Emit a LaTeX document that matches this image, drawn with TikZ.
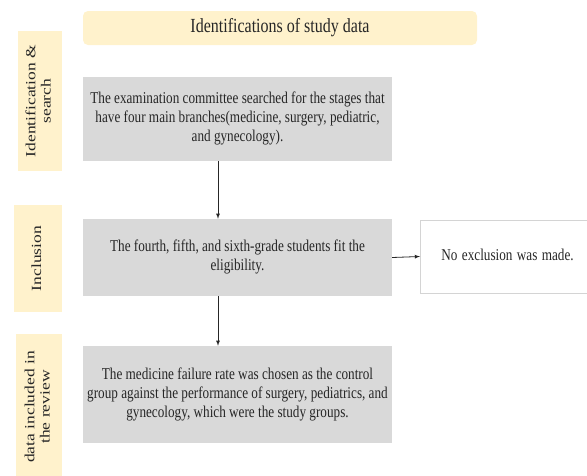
\documentclass[tikz,border=0pt]{standalone}
\usepackage{fontspec}
\setmainfont{Liberation Serif}
\usepackage{graphicx}
\usepackage{tikz}
\definecolor{paleyellow}{HTML}{FFF2CC}
\definecolor{boxgray}{HTML}{D9D9D9}
\definecolor{edgegray}{HTML}{D4D4D4}
\definecolor{inkgray}{HTML}{262626}
\newcommand{\squeeze}[1]{\scalebox{0.8}[1]{\begin{tabular}{@{}c@{}}#1\end{tabular}}}
\newcommand{\flatten}[1]{\scalebox{1}[0.8]{\begin{tabular}{@{}c@{}}#1\end{tabular}}}

\begin{document}
\begin{tikzpicture}[x=1pt,y=-1pt,
		bodytext/.style={text=inkgray,font=\fontsize{16.5}{19}\selectfont},
		stagebox/.style={bodytext,fill=boxgray,minimum width=309pt},
		sidebox/.style={fill=paleyellow,rotate=90,text=inkgray,inner sep=0pt,font=\fontsize{17.5}{19}\selectfont},
		flow/.style={->,>=latex,line width=0.8pt,draw=inkgray}]
				\useasboundingbox (0,0) rectangle (587,475);
			
				\node[fill=paleyellow,rounded corners=5pt,minimum width=394pt,minimum height=34pt,text=inkgray,font=\fontsize{20}{23}\selectfont] (T) at (280,28) {\squeeze{Identifications of study data}};
			
				\begin{scope}[every node/.style={sidebox}]
					\node[minimum width=140pt,minimum height=44pt] (L1) at (40,101) {\flatten{Identification \&\\search}};
					\node[minimum width=107pt,minimum height=48pt] (L2) at (38,258.5) {\flatten{Inclusion}};
					\node[minimum width=146pt,minimum height=46pt] (L3) at (39,407) {\flatten{data included in\\the review}};
				\end{scope}
			
				\begin{scope}[every node/.style={stagebox}]
					\node[minimum height=84pt] (S1) at (237.5,119) {\squeeze{The examination committee searched for the stages that\\have four main branches(medicine, surgery, pediatric,\\and gynecology).}};
					\node[minimum height=77pt] (S2) at (237.5,257.5) {\squeeze{The fourth, fifth, and sixth-grade students fit the\\eligibility.}};
					\node[minimum height=97pt] (S3) at (237.5,394.5) {\squeeze{The medicine failure rate was chosen as the control\\group against the performance of surgery, pediatrics, and\\gynecology, which were the study groups.}};
				\end{scope}
			
				\node[bodytext,draw=edgegray,line width=0.8pt,anchor=west,minimum height=73pt,text width=160pt,align=left,inner xsep=21pt] (X) at (420,256.5) {\squeeze{No exclusion was made.}};
			
				\begin{scope}
					\path ([xshift=-19.5pt]S1.south) edge[flow] ([xshift=-19.5pt]S2.north);
					\path ([xshift=-19.5pt]S2.south) edge[flow] ([xshift=-19.5pt]S3.north);
					\path (S2.east) edge[flow] (X.west);
				\end{scope}
			\end{tikzpicture}
\end{document}
